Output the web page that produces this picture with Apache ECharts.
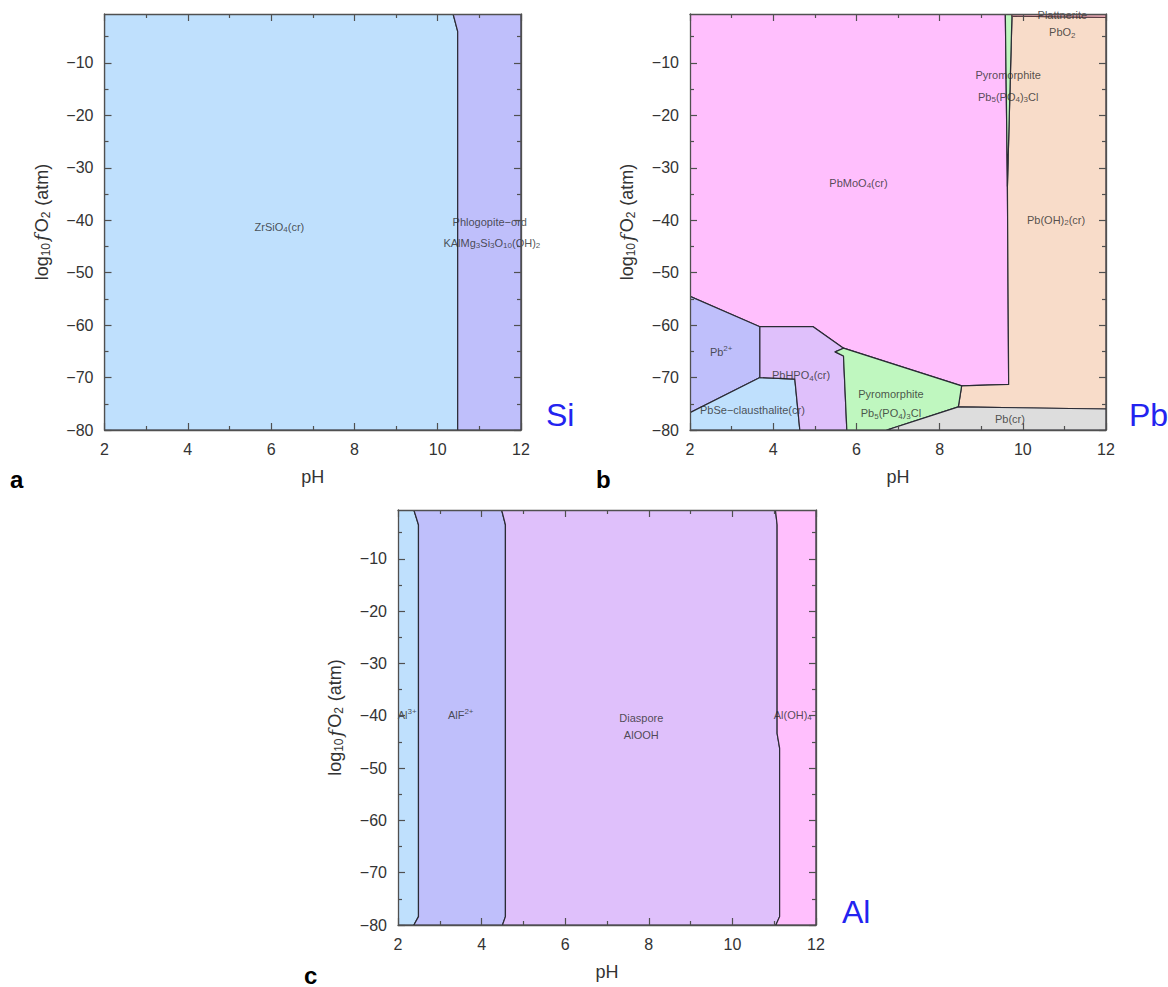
<!DOCTYPE html>
<html>
<head>
<meta charset="utf-8">
<script src="https://cdn.jsdelivr.net/npm/echarts@6/dist/echarts.min.js"></script>
<style>
html,body{margin:0;padding:0;background:#fff;}
#chart{width:1168px;height:987px;}
</style>
</head>
<body>
<div id="chart"></div>
<script>
// ---------- axis data ----------
const PH_MIN = 2, PH_MAX = 12, PH_STEP = 2;
const LOGF_MIN = -80, LOGF_MAX = -0.68;
const yMajorTicks = [-80, -70, -60, -50, -40, -30, -20, -10];
const yMinorTicks = [-75, -65, -55, -45, -35, -25, -15, -5];

// ---------- panel a : Si ----------
const siZircon   = [[2,-0.68],[10.37,-0.68],[10.48,-4],[10.48,-80],[2,-80]];
const siPhlog    = [[10.37,-0.68],[12,-0.68],[12,-80],[10.48,-80],[10.48,-4]];
const siLabels = [
  {text:'ZrSiO{s|4}(cr)', at:[6.2,-41.2]},
  {text:'Phlogopite\u2212ord', at:[11.25,-40.3]},
  {text:'KAlMg{s|3}Si{s|3}O{s|10}(OH){s|2}', at:[11.3,-44.3]}
];

// ---------- panel b : Pb ----------
const pbMoO4   = [[2,-0.68],[9.58,-0.68],[9.63,-33.5],[9.66,-71.3],[8.53,-71.6],[5.69,-64.4],[4.96,-60.3],[3.68,-60.3],[2,-54.5]];
const pbPyroTop = [[9.58,-0.68],[9.74,-0.68],[9.63,-33.5]];
const pbPlatt  = [[9.74,-0.68],[12,-0.68],[12,-1.35],[9.74,-1.1]];
const pbOH2    = [[9.74,-1.1],[12,-1.35],[12,-76.0],[8.45,-75.6],[8.53,-71.6],[9.66,-71.3],[9.63,-33.5]];
const pbIon    = [[2,-54.5],[3.68,-60.3],[3.68,-70],[2,-76.7]];
const pbSe     = [[2,-76.7],[3.68,-70],[4.52,-70.3],[4.64,-80],[2,-80]];
const pbHPO4   = [[3.68,-60.3],[4.96,-60.3],[5.69,-64.4],[5.49,-65.1],[5.69,-65.9],[5.77,-80],[4.64,-80],[4.52,-70.3],[3.68,-70]];
const pbPyroLow = [[5.69,-64.4],[8.53,-71.6],[8.45,-75.6],[6.73,-80],[5.77,-80],[5.69,-65.9],[5.49,-65.1]];
const pbMetal  = [[6.73,-80],[8.45,-75.6],[12,-76.0],[12,-80]];
const pbLabels = [
  {text:'PbMoO{s|4}(cr)', at:[6.05,-32.9]},
  {text:'Pyromorphite', at:[9.65,-12.4]},
  {text:'Pb{s|5}(PO{s|4}){s|3}Cl', at:[9.65,-16.5]},
  {text:'Pb(OH){s|2}(cr)', at:[10.8,-39.9]},
  {text:'Plattnerite', at:[10.95,-0.9]},
  {text:'PbO{s|2}', at:[10.95,-4.2]},
  {text:'Pb{p|2+}', at:[2.75,-65.1]},
  {text:'PbHPO{s|4}(cr)', at:[4.67,-69.6]},
  {text:'PbSe\u2212clausthalite(cr)', at:[3.5,-76.1]},
  {text:'Pyromorphite', at:[6.83,-73.2]},
  {text:'Pb{s|5}(PO{s|4}){s|3}Cl', at:[6.83,-76.8]},
  {text:'Pb(cr)', at:[9.69,-77.9]}
];

// ---------- panel c : Al ----------
const alIon     = [[2,-0.68],[2.38,-0.68],[2.49,-3.5],[2.49,-78.4],[2.38,-80],[2,-80]];
const alF       = [[2.38,-0.68],[4.48,-0.68],[4.57,-3.5],[4.57,-78.4],[4.5,-80],[2.38,-80],[2.49,-78.4],[2.49,-3.5]];
const alDiaspore= [[4.48,-0.68],[11.03,-0.68],[11.07,-3.5],[11.07,-43.4],[11.13,-46.2],[11.13,-78.4],[11.04,-80],[4.5,-80],[4.57,-78.4],[4.57,-3.5]];
const alOH4     = [[11.03,-0.68],[12,-0.68],[12,-80],[11.04,-80],[11.13,-78.4],[11.13,-46.2],[11.07,-43.4],[11.07,-3.5]];
const alLabels = [
  {text:'Al{p|3+}', at:[2.22,-39.8]},
  {text:'AlF{p|2+}', at:[3.5,-39.8]},
  {text:'Diaspore', at:[7.82,-40.5]},
  {text:'AlOOH', at:[7.82,-43.6]},
  {text:'Al(OH){s|4}{p|\u2212}', at:[11.5,-39.8]}
];

// ---------- styling ----------
const FONT = "'Liberation Sans', Arial, Helvetica, sans-serif";
const FRAME = '#505050';
const EDGE = '#2b2b35';
const LABEL_COLOR = '#2a2a2a';

const grids = [
  {left:104.5, top:14, width:416.5, height:416},
  {left:690, top:14, width:416, height:416},
  {left:398, top:510, width:418, height:415}
];

const fmtNum = v => String(v).replace('-', '\u2212');

const xAxes = [], yAxes = [];
grids.forEach((g, gi) => {
  ['bottom','top'].forEach((pos) => {
    xAxes.push({
      gridIndex: gi, type:'value', position: pos, min: PH_MIN, max: PH_MAX, interval: PH_STEP, z: 10,
      name: pos === 'bottom' ? 'pH' : '', nameLocation:'middle', nameGap: 38,
      nameTextStyle:{fontFamily:FONT, fontSize:18, color:'#333'},
      axisLine:{show:true, onZero:false, lineStyle:{color:FRAME, width:1.3}},
      axisTick:{show:true, inside:true, length:7, lineStyle:{color:FRAME, width:1.2}},
      minorTick:{show:true, splitNumber:2, length:4, lineStyle:{color:FRAME, width:1.2}},
      axisLabel:{show: pos === 'bottom', fontFamily:FONT, fontSize:16, color:'#333', margin:11, formatter: fmtNum},
      splitLine:{show:false}
    });
  });
  [['left',true],['right',true],['left',false],['right',false]].forEach(([pos, major]) => {
    const isMainLeft = pos === 'left' && major;
    yAxes.push({
      gridIndex: gi, type:'value', position: pos, min: LOGF_MIN, max: LOGF_MAX, z: 10, offset: 0,
      name: isMainLeft ? '{n|log}{s|10}{i|f}{n|O}{s|2}{n| (atm)}' : '',
      nameLocation:'middle', nameGap: 53, nameRotate: 90,
      nameTextStyle:{fontFamily:FONT, fontSize:18, color:'#333',
        rich:{
          n:{fontFamily:FONT, fontSize:18, color:'#333', lineHeight:20, verticalAlign:'middle'},
          s:{fontFamily:FONT, fontSize:12, color:'#333', lineHeight:12, verticalAlign:'bottom', padding:[0,1,0,0]},
          i:{fontFamily:'DejaVu Serif, serif', fontStyle:'italic', fontSize:18, color:'#333', lineHeight:20, verticalAlign:'middle', padding:[0,2,0,1]}
        }},
      axisLine:{show: major, onZero:false, lineStyle:{color:FRAME, width:1.3}},
      axisTick:{show:true, inside:true, length: major ? 7 : 4, customValues: major ? yMajorTicks : yMinorTicks,
                lineStyle:{color:FRAME, width:1.2}},
      axisLabel:{show: isMainLeft, customValues: yMajorTicks, fontFamily:FONT, fontSize:16, color:'#333', margin:11, formatter: fmtNum},
      splitLine:{show:false}
    });
  });
});

function region(verts, color, gi, stroke) {
  return {
    type:'custom', xAxisIndex: gi*2, yAxisIndex: gi*4, z: 1, silent: true, clip: true,
    data: verts, encode:{x:0, y:1},
    renderItem: (params, api) => {
      if (params.dataIndex !== 0) return null;
      return {
        type:'polygon',
        shape:{points: verts.map(v => api.coord(v))},
        style:{fill: color, stroke: stroke || EDGE, lineWidth: 1.2, lineJoin:'round'}
      };
    }
  };
}

const labelRich = {
  s:{fontFamily:FONT, fontSize:8, color:LABEL_COLOR, lineHeight:8, verticalAlign:'bottom'},
  p:{fontFamily:FONT, fontSize:8, color:LABEL_COLOR, lineHeight:8, verticalAlign:'top'}
};
function labelSeries(list, gi) {
  return {
    type:'scatter', xAxisIndex: gi*2, yAxisIndex: gi*4, z: 5, silent: true, symbolSize: 0,
    data: list.map(l => ({value: l.at, name: l.text})),
    label:{show:true, position:'inside', formatter: p => p.name,
      fontFamily:FONT, fontSize:11, color:LABEL_COLOR, lineHeight:14, rich: labelRich}
  };
}

const series = [
  region(siZircon, '#bfe0fd', 0),
  region(siPhlog, '#bfbffb', 0),
  labelSeries(siLabels, 0),

  region(pbMoO4, '#ffbffd', 1),
  region(pbOH2, '#f8dcc9', 1),
  region(pbPyroTop, '#bff7bf', 1),
  region(pbPlatt, '#e4a6b0', 1, '#5a3a40'),
  region(pbIon, '#bfbffb', 1),
  region(pbSe, '#bfe0fd', 1),
  region(pbHPO4, '#dfc0fb', 1),
  region(pbPyroLow, '#bff7bf', 1),
  region(pbMetal, '#dddddd', 1),
  labelSeries(pbLabels, 1),

  region(alIon, '#bfe0fd', 2),
  region(alF, '#bfbffb', 2),
  region(alDiaspore, '#dfc0fb', 2),
  region(alOH4, '#ffbffd', 2),
  labelSeries(alLabels, 2)
];

const bigText = (txt, x, y) => ({type:'text', left:x, top:y,
  style:{text:txt, fill:'#2323f0', font:'32px ' + FONT}});
const letter = (txt, x, y) => ({type:'text', left:x, top:y,
  style:{text:txt, fill:'#000', font:'bold 24px ' + FONT}});

const chart = echarts.init(document.getElementById('chart'), null, {renderer:'svg', width:1168, height:987});
chart.setOption({
  animation:false,
  backgroundColor:'#fff',
  grid: grids,
  xAxis: xAxes,
  yAxis: yAxes,
  series: series,
  graphic: [
    bigText('Si', 546, 399),
    bigText('Pb', 1129, 399),
    bigText('Al', 842, 896),
    letter('a', 10, 467),
    letter('b', 596, 467),
    letter('c', 304, 963)
  ]
});
</script>
</body>
</html>
